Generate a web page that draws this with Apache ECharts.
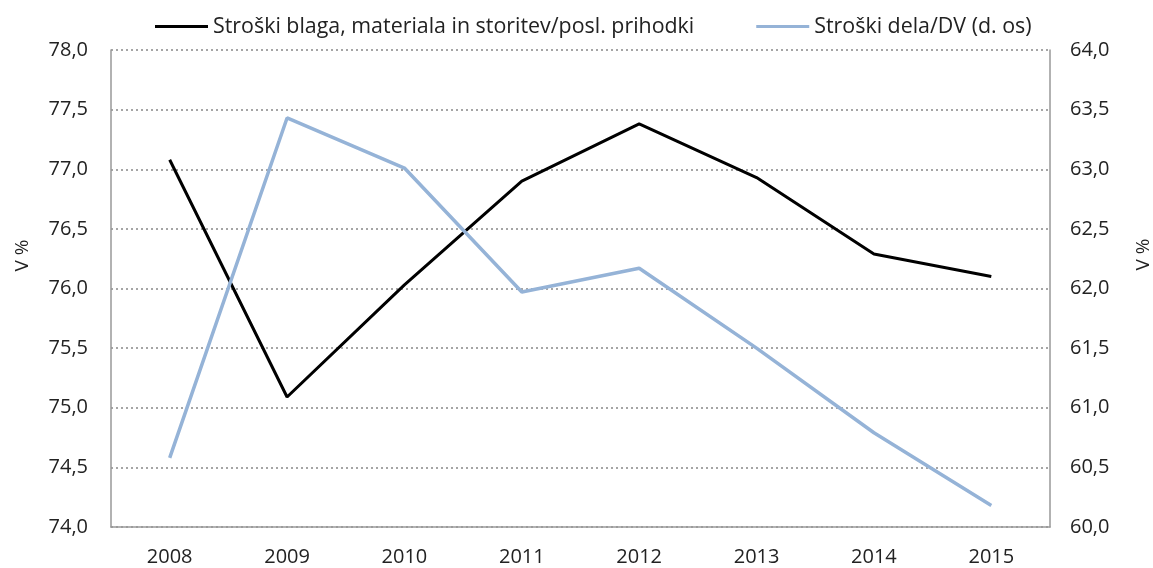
<!DOCTYPE html>
<html>
<head>
<meta charset="utf-8">
<script src="https://cdn.jsdelivr.net/npm/echarts@6/dist/echarts.min.js"></script>
<style>
html, body { margin: 0; padding: 0; background: #fff; }
#main { width: 1153px; height: 568px; }
</style>
</head>
<body>
<div id="main"></div>
<script>
// podatki
var leta = ['2008', '2009', '2010', '2011', '2012', '2013', '2014', '2015'];
var strBlaga = [77.08, 75.09, 76.03, 76.90, 77.38, 76.93, 76.29, 76.10];
var strDela = [60.58, 63.43, 63.01, 61.97, 62.17, 61.50, 60.79, 60.18];
var imeBlaga = 'Stroški blaga, materiala in storitev/posl. prihodki';
var imeDela = 'Stroški dela/DV (d. os)';

var myChart = echarts.init(document.getElementById('main'));
var fmt = function (v) { return v.toFixed(1).replace('.', ','); };
var pisava = 'Open Sans';

option = {
	animation: false,
	textStyle: { fontFamily: pisava },
	legend: {
		top: 11,
		left: 150,
		itemWidth: 53,
		itemHeight: 3,
		itemGap: 62,
		icon: 'rect',
		textStyle: { fontSize: 21.4, color: '#222', fontFamily: pisava },
		data: [imeBlaga, imeDela]
	},
	grid: { left: 111, right: 103, top: 50, bottom: 41, outerBoundsMode: 'none' },
	xAxis: {
		type: 'category',
		data: leta,
		boundaryGap: true,
		axisLine: { lineStyle: { color: '#999', width: 1.5 } },
		axisTick: { show: false },
		axisLabel: { fontSize: 20, color: '#222', margin: 20 }
	},
	yAxis: [
		{
			type: 'value', min: 74, max: 78, interval: 0.5,
			name: 'V %', nameLocation: 'middle', nameGap: 79, nameRotate: 90,
			nameTextStyle: { fontSize: 19, color: '#222', padding: [0, 0, 0, 66] },
			axisLine: { show: true, lineStyle: { color: '#999', width: 1.5 } },
			axisTick: { show: false },
			axisLabel: { fontSize: 20, color: '#222', margin: 23, formatter: fmt },
			splitLine: { lineStyle: { color: '#888', type: [2, 3], width: 1.5 } }
		},
		{
			type: 'value', min: 60, max: 64, interval: 0.5,
			name: 'V %', nameLocation: 'middle', nameGap: 84, nameRotate: 90,
			nameTextStyle: { fontSize: 19, color: '#222', padding: [0, 0, 0, 68] },
			axisLine: { show: true, lineStyle: { color: '#999', width: 1.5 } },
			axisTick: { show: false },
			axisLabel: { fontSize: 20, color: '#222', margin: 20, formatter: fmt },
			splitLine: { show: false }
		}
	],
	series: [
		{
			name: imeBlaga, type: 'line', yAxisIndex: 0,
			data: strBlaga, symbol: 'none',
			lineStyle: { color: '#000', width: 3 },
			itemStyle: { color: '#000' }
		},
		{
			name: imeDela, type: 'line', yAxisIndex: 1,
			data: strDela, symbol: 'none',
			lineStyle: { color: '#95B3D7', width: 3.5 },
			itemStyle: { color: '#95B3D7' }
		}
	]
};
myChart.setOption(option);
</script>
</body>
</html>
